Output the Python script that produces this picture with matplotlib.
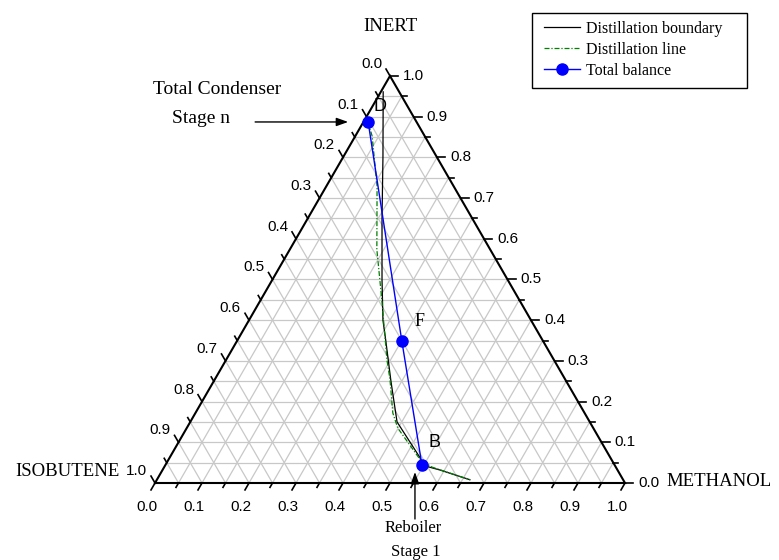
import numpy as np
import matplotlib
matplotlib.use("Agg")
import matplotlib.pyplot as plt
from matplotlib.lines import Line2D
from matplotlib.patches import Rectangle

# ---------------- data (mole fractions: isobutene, methanol, inert) ----------------
boundary_isobutene = [0.034, 0.115, 0.192, 0.267, 0.315, 0.334, 0.373, 0.410, 0.405, 0.410, 0.378, 0.326]
boundary_methanol  = [0.005, 0.085, 0.158, 0.233, 0.285, 0.316, 0.377, 0.440, 0.533, 0.546, 0.590, 0.666]
boundary_inert     = [0.961, 0.800, 0.650, 0.500, 0.400, 0.350, 0.250, 0.150, 0.062, 0.044, 0.032, 0.008]

dline_isobutene = [0.103, 0.112, 0.163, 0.241, 0.292, 0.355, 0.373, 0.408, 0.416, 0.407, 0.391, 0.326]
dline_methanol  = [0.010, 0.036, 0.108, 0.185, 0.257, 0.342, 0.373, 0.420, 0.449, 0.536, 0.570, 0.666]
dline_inert     = [0.887, 0.852, 0.729, 0.574, 0.451, 0.303, 0.254, 0.172, 0.135, 0.057, 0.039, 0.008]

balance_names     = ["D", "F", "B"]
balance_isobutene = [0.103, 0.300, 0.410]
balance_methanol  = [0.010, 0.350, 0.546]
balance_inert     = [0.887, 0.350, 0.044]

tick_values = [0.0, 0.1, 0.2, 0.3, 0.4, 0.5, 0.6, 0.7, 0.8, 0.9, 1.0]
tick_labels = ["0.0", "0.1", "0.2", "0.3", "0.4", "0.5", "0.6", "0.7", "0.8", "0.9", "1.0"]
minor_values = [0.05, 0.15, 0.25, 0.35, 0.45, 0.55, 0.65, 0.75, 0.85, 0.95]
grid_step = 0.05

legend_labels = ["Distillation boundary", "Distillation line", "Total balance"]

# ---------------- helpers ----------------
H = np.sqrt(3) / 2
PX = 470.0  # pixels per unit triangle side
W, HT = 779, 560


def tern(methanol, inert):
    m = np.asarray(methanol, float)
    i = np.asarray(inert, float)
    return m + i / 2, i * H


def p(px):
    return px / PX


SERIF = ["Liberation Serif", "DejaVu Serif"]
SANS = ["Liberation Sans", "DejaVu Sans"]

fig = plt.figure(figsize=(W / 100, HT / 100), dpi=100)
ax = fig.add_axes([0, 0, 1, 1])
ax.set_xlim(-155 / PX, (W - 155) / PX)
ax.set_ylim(-(HT - 483) / PX, 483 / PX)
ax.axis("off")

# ---------------- grid ----------------
gc = "#c8c8c8"
for k in np.arange(1, int(round(1 / grid_step))) * grid_step:
    ax.plot([k / 2, 1 - k / 2], [k * H, k * H], color=gc, lw=0.9, zorder=1)
    ax.plot([k, k + (1 - k) / 2], [0, (1 - k) * H], color=gc, lw=0.9, zorder=1)
    ax.plot([1 - k, (1 - k) / 2], [0, (1 - k) * H], color=gc, lw=0.9, zorder=1)

# ---------------- triangle ----------------
ax.plot([0, 1, 0.5, 0], [0, 0, H, 0], color="black", lw=1.5, zorder=3,
        solid_joinstyle="miter")

# ---------------- ticks ----------------
maj, mnr = p(8), p(5)
tick_kw = dict(color="black", lw=1.2, zorder=3)
TFS = 11
for v, lab in zip(tick_values, tick_labels):
    x0, y0 = v, 0.0
    ax.plot([x0, x0 - 0.5 * maj], [y0, y0 - H * maj], **tick_kw)
    ax.text(x0 - p(8), y0 - p(24), lab, ha="center", va="center",
            fontsize=TFS, family=SANS)
    x0, y0 = 1 - v / 2, v * H
    ax.plot([x0, x0 + maj], [y0, y0], **tick_kw)
    ax.text(x0 + p(13), y0, lab, ha="left", va="center", fontsize=TFS, family=SANS)
    x0, y0 = (1 - v) / 2, (1 - v) * H
    ax.plot([x0, x0 - 0.5 * maj], [y0, y0 + H * maj], **tick_kw)
    ax.text(x0 - p(8), y0 + p(12), lab, ha="right", va="center",
            fontsize=TFS, family=SANS)
for v in minor_values:
    x0, y0 = v, 0.0
    ax.plot([x0, x0 - 0.5 * mnr], [y0, y0 - H * mnr], **tick_kw)
    x0, y0 = 1 - v / 2, v * H
    ax.plot([x0, x0 + mnr], [y0, y0], **tick_kw)
    x0, y0 = (1 - v) / 2, (1 - v) * H
    ax.plot([x0, x0 - 0.5 * mnr], [y0, y0 + H * mnr], **tick_kw)

# ---------------- axis titles ----------------
ax.text(0.5, H + p(49), "INERT", ha="center", va="center", fontsize=13.5, family=SERIF)
ax.text(-p(35), p(12), "ISOBUTENE", ha="right", va="center", fontsize=13.5, family=SERIF)
ax.text(1 + p(41), p(2), "METHANOL", ha="left", va="center", fontsize=13.5, family=SERIF)

# ---------------- series ----------------
DASH = (0, (4, 1.5, 1, 1.5))
bx, by = tern(boundary_methanol, boundary_inert)
ax.plot(bx, by, color="black", lw=0.9, zorder=4)
dx, dy = tern(dline_methanol, dline_inert)
ax.plot(dx, dy, color="#008000", lw=0.9, ls=DASH, zorder=4)
tx, ty = tern(balance_methanol, balance_inert)
ax.plot(tx, ty, color="blue", lw=1.0, marker="o", ms=8, zorder=5)

label_offsets = {"D": (12, 15), "F": (18, 19), "B": (13, 23)}
label_family = {"D": SANS, "F": SERIF, "B": SANS}
for name, x, y in zip(balance_names, tx, ty):
    ox, oy = label_offsets[name]
    ax.annotate(name, (x, y), xytext=(ox, oy), textcoords="offset pixels",
                ha="center", va="center", fontsize=13, family=label_family[name])

# ---------------- annotations ----------------
arrow = dict(arrowstyle="-|>,head_length=0.7,head_width=0.25", color="black",
             lw=1.0, shrinkA=0, shrinkB=0)
Dx, Dy = tx[0], ty[0]
ax.annotate("", xy=(Dx - p(20), Dy), xytext=(Dx - p(113), Dy), arrowprops=arrow)
ax.text(Dx - p(151), Dy + p(32), "Total Condenser", ha="center", va="center",
        fontsize=14, family=SERIF)
ax.text(Dx - p(167), Dy + p(3), "Stage n", ha="center", va="center",
        fontsize=14, family=SERIF)

Bx = tx[2]
ax.annotate("", xy=(Bx - p(7), p(11)), xytext=(Bx - p(7), -p(36)), arrowprops=arrow)
ax.text(Bx - p(9), -p(45), "Reboiler", ha="center", va="center", fontsize=12, family=SERIF)
ax.text(Bx - p(6), -p(69), "Stage 1", ha="center", va="center", fontsize=12, family=SERIF)

# ---------------- legend ----------------
handles = [
    Line2D([], [], color="black", lw=0.9),
    Line2D([], [], color="#008000", lw=0.9, ls=DASH),
    Line2D([], [], color="blue", lw=1.0, marker="o", ms=8),
]
ax.legend(handles, legend_labels, loc="upper left",
          bbox_to_anchor=(544 / W, 1 - 21 / HT), bbox_transform=fig.transFigure,
          frameon=False, borderaxespad=0, borderpad=0, handlelength=2.25,
          handletextpad=0.38, labelspacing=0.3, prop=dict(family=SERIF, size=11.5))
fig.add_artist(Rectangle((532 / W, 1 - 88 / HT), 215 / W, 75 / HT, transform=fig.transFigure,
                         fill=False, edgecolor="black", lw=1.0))

fig.savefig("out.png", dpi=100)
